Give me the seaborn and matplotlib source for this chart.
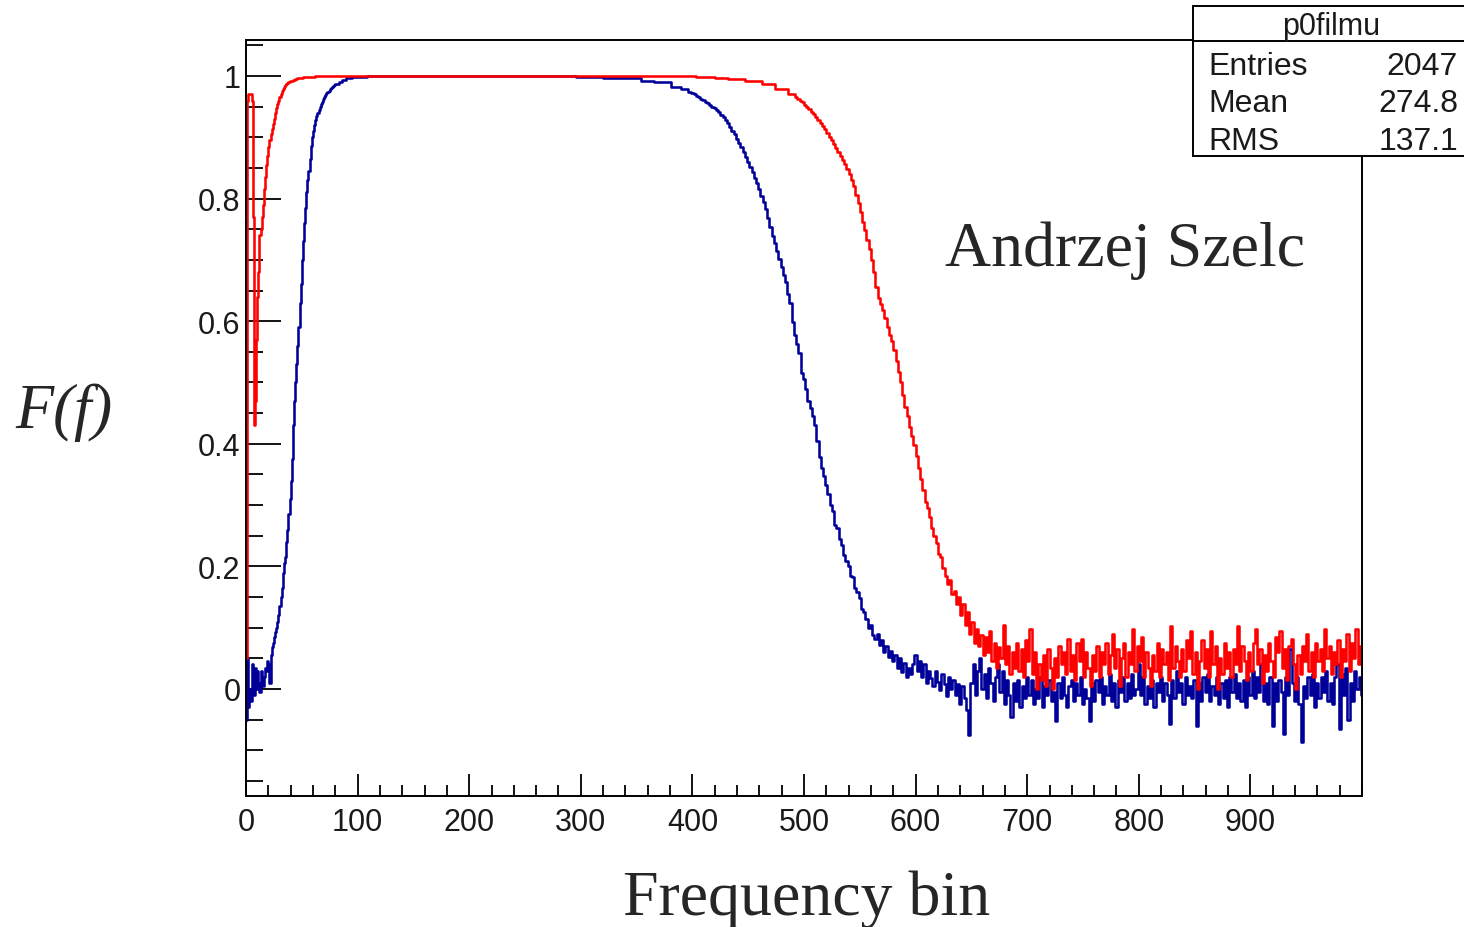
import numpy as np
import pandas as pd
import matplotlib
matplotlib.use("Agg")
import matplotlib.pyplot as plt
from matplotlib.patches import Rectangle
from matplotlib.lines import Line2D
from matplotlib.ticker import MultipleLocator
import seaborn as sns

# ---- data (left bin edge -> F(f)) ----
# blue curve: single bins on the rise, a few points on the plateau
blue_bins = list(range(0, 81)) + [83, 86, 90, 95, 103, 108, 296, 320, 336, 354, 366, 381, 390, 396]
blue_vals = [
    -0.05, 0.05, -0.03, 0.0, -0.02, 0.04, 0.01, -0.01, 0.035, 0.0,
    0.03, 0.01, -0.005, 0.03, 0.02, 0.005, 0.02, 0.035, 0.03, 0.045,
    0.04, 0.01, 0.055, 0.068, 0.075, 0.085, 0.093, 0.10, 0.11, 0.12,
    0.135, 0.15, 0.165, 0.19, 0.205, 0.215, 0.24, 0.26, 0.285, 0.31,
    0.34, 0.375, 0.43, 0.47, 0.50, 0.53, 0.56, 0.59, 0.63, 0.66,
    0.70, 0.73, 0.76, 0.785, 0.81, 0.83, 0.845, 0.865, 0.885, 0.90,
    0.91, 0.92, 0.928, 0.935, 0.94, 0.945, 0.95, 0.955, 0.958, 0.962,
    0.966, 0.969, 0.972, 0.974, 0.976, 0.978, 0.98, 0.982, 0.984, 0.985,
    0.987,
    0.99, 0.993, 0.996, 0.998, 0.999, 1.0, 0.998, 0.997, 0.996, 0.992, 0.99, 0.982, 0.978, 0.974,
]
# blue from bin 399 on, in pairs of bins
blue_tail_start = 399
blue_tail_vals = [
    # 399 - 517
    0.972, 0.970, 0.968, 0.966, 0.963, 0.961, 0.958, 0.956, 0.953, 0.950,
    0.947, 0.944, 0.941, 0.937, 0.933, 0.929, 0.923, 0.917, 0.911, 0.905,
    0.898, 0.891, 0.884, 0.876, 0.868, 0.860, 0.851, 0.843, 0.834, 0.825,
    0.816, 0.805, 0.794, 0.783, 0.768, 0.753, 0.739, 0.727, 0.714, 0.701,
    0.688, 0.676, 0.664, 0.645, 0.630, 0.598, 0.578, 0.563, 0.548, 0.515,
    0.505, 0.49, 0.47, 0.458, 0.445, 0.43, 0.405, 0.378, 0.36, 0.348,
    # 519 - 599
    0.333, 0.318, 0.30, 0.29, 0.268, 0.262, 0.245, 0.235, 0.218, 0.208,
    0.20, 0.185, 0.182, 0.165, 0.158, 0.148, 0.13, 0.125, 0.114, 0.10,
    0.105, 0.088, 0.082, 0.09, 0.072, 0.08, 0.06, 0.07, 0.052, 0.062,
    0.045, 0.055, 0.035, 0.05, 0.028, 0.042, 0.02, 0.035, 0.025, 0.04,
    0.055,
    # 601 - 699
    0.03, 0.045, 0.02, 0.04, 0.01, 0.03, 0.018, 0.005, 0.03, 0.012,
    -0.002, 0.025, 0.008, -0.012, 0.02, 0.0, 0.015, -0.01, 0.008, -0.025,
    0.005, -0.015, -0.035, -0.075, 0.01, 0.04, -0.01, 0.03, 0.05, 0.0,
    0.025, -0.015, 0.035, 0.01, -0.02, 0.02, 0.04, -0.005, 0.03, -0.025,
    0.015, -0.01, -0.045, 0.01, -0.02, 0.015, -0.03, 0.005, -0.015, 0.02,
    # 701 - 999
    -0.01, 0.015, -0.025, 0.0, -0.015, 0.02, -0.03, 0.005, -0.01, 0.015,
    -0.02, -0.005, -0.052, 0.01, -0.015, 0.02, -0.01, -0.03, 0.005, 0.015,
    -0.02, 0.01, -0.01, 0.02, -0.025, 0.0, -0.015, -0.052, 0.01, -0.02,
    0.015, -0.005, 0.02, -0.025, 0.005, -0.01, 0.025, -0.02, 0.01, -0.03,
    0.015, -0.005, 0.02, -0.02, 0.01, -0.015, 0.025, -0.01, 0.0, 0.04,
    -0.01, 0.02, -0.025, 0.005, -0.015, 0.015, -0.03, 0.01, -0.005, 0.02,
    -0.02, 0.01, -0.01, -0.057, 0.015, -0.015, 0.03, -0.005, 0.01, -0.025,
    0.02, -0.01, 0.005, -0.015, 0.015, -0.06, 0.01, -0.02, 0.02, -0.005,
    0.025, -0.02, 0.005, -0.01, 0.02, -0.025, 0.01, -0.015, 0.015, -0.03,
    0.02, -0.005, 0.025, -0.015, 0.01, -0.02, 0.015, -0.03, 0.02, -0.01,
    0.03, -0.015, 0.02, -0.005, 0.04, -0.02, 0.01, -0.025, 0.02, -0.06,
    0.01, -0.02, 0.015, -0.005, -0.073, 0.02, -0.01, 0.065, 0.01, -0.02,
    0.02, -0.025, -0.086, 0.005, -0.015, 0.02, -0.01, 0.025, -0.03, 0.01,
    -0.015, 0.02, -0.005, 0.03, -0.02, 0.01, -0.025, 0.02, 0.04, -0.065,
    0.025, -0.01, 0.035, -0.05, 0.01, -0.02, 0.03, 0.0, 0.02, -0.01,
]

# red curve
red_bins = list(range(0, 41)) + [42, 44, 46, 48, 51, 55, 62, 403, 420, 432, 447, 462, 474, 486]
red_vals = [
    0.05, 0.96, 0.97, 0.97, 0.97, 0.96, 0.77, 0.43, 0.47, 0.57,
    0.64, 0.68, 0.74, 0.75, 0.77, 0.79, 0.815, 0.835, 0.855, 0.87,
    0.884, 0.895, 0.905, 0.913, 0.922, 0.93, 0.94, 0.947, 0.955, 0.96,
    0.966, 0.971, 0.975, 0.979, 0.982, 0.985, 0.987, 0.989, 0.99, 0.991,
    0.992,
    0.994, 0.995, 0.996, 0.997, 0.998, 0.999, 1.0, 0.998, 0.997, 0.995, 0.991, 0.987, 0.979, 0.971,
]
red_tail_start = 492
red_tail_vals = [
    # 492 - 610
    0.965, 0.962, 0.960, 0.957, 0.953, 0.950, 0.946, 0.942, 0.938, 0.933,
    0.928, 0.923, 0.918, 0.913, 0.907, 0.901, 0.895, 0.889, 0.882, 0.876,
    0.869, 0.863, 0.856, 0.848, 0.840, 0.831, 0.82, 0.806, 0.792, 0.778,
    0.762, 0.748, 0.733, 0.718, 0.70, 0.68, 0.655, 0.638, 0.628, 0.618,
    0.605, 0.59, 0.578, 0.568, 0.553, 0.535, 0.517, 0.5, 0.48, 0.46,
    0.445, 0.428, 0.412, 0.398, 0.38, 0.36, 0.343, 0.325, 0.305, 0.295,
    # 612 - 690
    0.28, 0.262, 0.25, 0.238, 0.22, 0.215, 0.198, 0.185, 0.172, 0.178,
    0.155, 0.16, 0.138, 0.15, 0.12, 0.138, 0.105, 0.125, 0.09, 0.11,
    0.075, 0.098, 0.07, 0.088, 0.055, 0.085, 0.06, 0.095, 0.045, 0.075,
    0.035, 0.068, 0.05, 0.105, 0.04, 0.07, 0.025, 0.06, 0.035, 0.075,
    # 692 - 998
    0.03, 0.065, 0.02, 0.08, 0.045, 0.098, 0.025, 0.06, 0.0, 0.04,
    0.015, 0.055, 0.005, 0.065, 0.035, 0.0, 0.05, 0.02, 0.07, 0.04,
    0.06, 0.025, 0.082, 0.03, 0.055, 0.015, 0.075, 0.045, 0.082, 0.02,
    0.06, 0.035, 0.005, 0.055, 0.03, 0.07, 0.02, 0.06, 0.04, 0.075,
    0.025, 0.055, 0.09, 0.035, 0.065, 0.005, 0.05, 0.075, 0.02, 0.06,
    0.04, 0.098, 0.03, 0.07, 0.045, 0.085, 0.02, 0.06, 0.035, 0.005,
    0.055, 0.03, 0.075, 0.02, 0.065, 0.04, 0.06, 0.015, 0.103, 0.035,
    0.07, 0.045, 0.02, 0.065, 0.03, 0.08, 0.05, 0.095, 0.025, 0.06,
    0.0, 0.045, 0.08, 0.035, 0.065, 0.02, 0.095, 0.04, 0.07, 0.0,
    0.05, 0.025, 0.075, 0.035, 0.06, 0.02, 0.065, 0.04, 0.103, 0.03,
    0.07, 0.045, 0.015, 0.06, 0.03, 0.075, 0.098, 0.04, 0.065, 0.01,
    0.055, 0.03, 0.075, 0.045, 0.02, 0.085, 0.06, 0.095, 0.035, 0.065,
    0.015, 0.07, 0.082, 0.04, 0.0, 0.055, 0.025, 0.07, 0.045, 0.09,
    0.03, 0.06, 0.02, 0.075, 0.045, 0.065, 0.03, 0.098, 0.05, 0.07,
    0.025, 0.06, 0.04, 0.08, 0.02, 0.065, 0.045, 0.09, 0.03, 0.075,
    0.05, 0.098, 0.04, 0.07,
]

x_end = 1000
tail_step = 2
stats_rows = [("Entries", "2047"), ("Mean", "274.8"), ("RMS", "137.1")]


def as_steps(bins, vals, tail_start, tail_vals):
    tail_bins = [tail_start + tail_step * i for i in range(len(tail_vals))]
    x = list(bins) + tail_bins + [x_end]
    y = list(vals) + list(tail_vals)
    y = y + [y[-1]]
    return pd.DataFrame({"bin": x, "F": y})


blue_df = as_steps(blue_bins, blue_vals, blue_tail_start, blue_tail_vals)
red_df = as_steps(red_bins, red_vals, red_tail_start, red_tail_vals)

sns.set_theme(style="white")
plt.rcParams["font.family"] = ["Liberation Sans", "DejaVu Sans"]

W, H = 1464, 928
fig = plt.figure(figsize=(W / 100, H / 100), dpi=100)
ax = fig.add_axes([246 / W, 1 - 797 / H, (1362 - 246) / W, (797 - 41) / H])

sns.lineplot(data=blue_df, x="bin", y="F", drawstyle="steps-post", estimator=None, sort=False,
             color="#000099", lw=1.85, ax=ax)
sns.lineplot(data=red_df, x="bin", y="F", drawstyle="steps-post", estimator=None, sort=False,
             color="#ff0000", lw=1.85, ax=ax)

ax.set_xlim(0, x_end)
ax.set_ylim(-0.1746, 1.0587)
ax.set_xlabel("")
ax.set_ylabel("")
ax.set_xticks(range(0, 1000, 100))
ax.xaxis.set_minor_locator(MultipleLocator(20))
ax.set_yticks([0, 0.2, 0.4, 0.6, 0.8, 1.0])
ax.set_yticklabels(["0", "0.2", "0.4", "0.6", "0.8", "1"])
ax.yaxis.set_minor_locator(MultipleLocator(0.05))
ax.tick_params(axis="both", which="both", direction="in", color="black", width=1.3,
               bottom=True, left=True, top=False, right=False,
               labelsize=22, labelcolor="#1a1a1a")
ax.tick_params(axis="x", which="major", length=16, pad=8)
ax.tick_params(axis="x", which="minor", length=8)
ax.tick_params(axis="y", which="major", length=25, pad=4)
ax.tick_params(axis="y", which="minor", length=12)
for s in ax.spines.values():
    s.set_color("black")
    s.set_linewidth(1.4)
    s.set_visible(True)

serif = ["Liberation Serif", "DejaVu Serif"]
fig.text(945 / W, 1 - 266 / H, "Andrzej Szelc", family=serif, fontsize=46, ha="left", va="baseline")
fig.text(807 / W, 1 - 915 / H, "Frequency bin", family=serif, fontsize=46, ha="center", va="baseline")
fig.text(15 / W, 1 - 428 / H, "F(f)", family=serif, style="italic", fontsize=45, ha="left", va="baseline")

# stats box (ROOT style), hanging off the top right corner
box = Rectangle((1193 / W, 1 - 157 / H), (1475 - 1193) / W, (157 - 7) / H, transform=fig.transFigure,
                facecolor="white", edgecolor="black", lw=1.4, zorder=10)
fig.add_artist(box)
fig.add_artist(Line2D([1193 / W, 1.0], [1 - 42 / H, 1 - 42 / H], transform=fig.transFigure,
                      color="black", lw=1.4, zorder=11))
fig.text(1331 / W, 1 - 35 / H, "p0filmu", fontsize=22, ha="center", va="baseline", zorder=12,
         color="#1a1a1a")
for (name, val), yb in zip(stats_rows, [75, 112, 150]):
    fig.text(1208 / W, 1 - yb / H, name, fontsize=23, ha="left", va="baseline", zorder=12, color="#1a1a1a")
    fig.text(1458 / W, 1 - yb / H, val, fontsize=23, ha="right", va="baseline", zorder=12, color="#1a1a1a")

fig.savefig("out.png", dpi=100)
